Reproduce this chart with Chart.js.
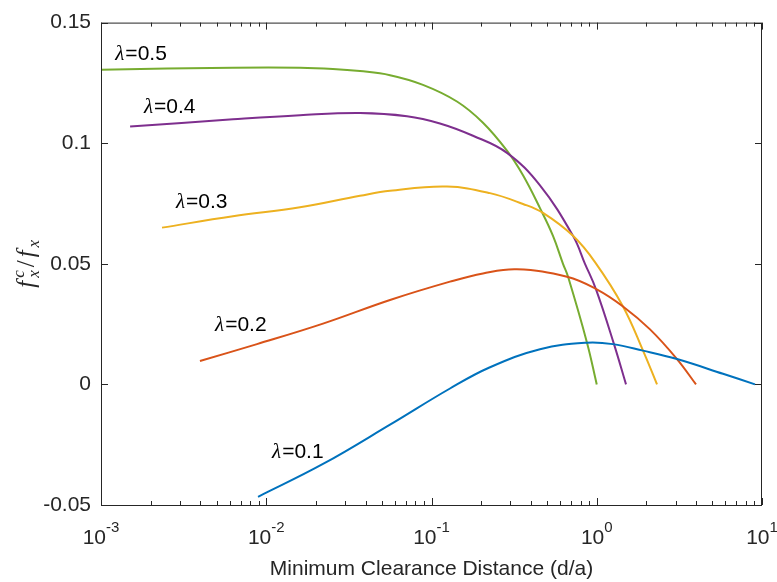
<!DOCTYPE html>
<html>
<head>
<meta charset="utf-8">
<script src="https://cdn.jsdelivr.net/npm/chart.js@4.4.0/dist/chart.umd.min.js"></script>
<style>
  html, body { margin: 0; padding: 0; background: #fff; }
  #wrap { width: 777px; height: 582px; }
</style>
</head>
<body>
<div id="wrap"><canvas id="chart"></canvas></div>
<script>
// lambda values, one curve each
const lambdas = ['0.1', '0.2', '0.3', '0.4', '0.5'];
const seriesColors = ['#0072BD', '#D95319', '#EDB120', '#7E2F8E', '#77AC30'];

// (x = d/a, y = f_x^c / f_x)
const x01 = [0.00892, 0.02205, 0.0561, 0.1294, 0.2259, 0.4534, 0.873, 1.2539, 1.9055, 3.0593, 5.8076, 9.0718];
const y01 = [-0.0466, -0.0330, -0.0167, -0.0017, 0.0071, 0.0146, 0.0173, 0.0167, 0.0140, 0.0105, 0.0044, 0.0];

const x02 = [0.00397, 0.00879, 0.02205, 0.0561, 0.1294, 0.2049, 0.3291, 0.6607, 1.0, 1.4416, 2.1008, 3.0593, 3.9867];
const y02 = [0.0097, 0.0167, 0.0252, 0.0350, 0.0426, 0.0460, 0.0477, 0.0446, 0.0394, 0.0323, 0.0228, 0.0105, 0.0];

const x03 = [0.00234, 0.00629, 0.016, 0.0369, 0.0561, 0.1241, 0.2259, 0.3579, 0.4729, 0.7182, 0.9759, 1.4416, 1.9055, 2.3159];
const y03 = [0.0650, 0.0697, 0.0734, 0.0782, 0.0803, 0.0820, 0.0793, 0.0748, 0.0711, 0.0616, 0.0507, 0.0323, 0.0140, 0.0];

const x04 = [0.0015, 0.00629, 0.016, 0.0369, 0.0711, 0.1125, 0.1783, 0.2862, 0.4534, 0.7182, 0.849, 0.9897, 1.2716, 1.5033];
const y04 = [0.1069, 0.1099, 0.1116, 0.1125, 0.1112, 0.1082, 0.1031, 0.0960, 0.0825, 0.0616, 0.0500, 0.0394, 0.0167, 0.0];

const x05 = [0.001, 0.00629, 0.016, 0.0253, 0.0369, 0.0561, 0.0888, 0.1426, 0.2049, 0.2862, 0.3579, 0.4534, 0.5435, 0.6249, 0.6699, 0.873, 1.0];
const y05 = [0.1305, 0.1313, 0.1313, 0.1308, 0.1299, 0.1282, 0.1242, 0.1173, 0.1085, 0.0969, 0.0867, 0.0731, 0.0616, 0.0500, 0.0447, 0.0173, 0.0];

const xSeries = [x01, x02, x03, x04, x05];
const ySeries = [y01, y02, y03, y04, y05];

// where the lambda labels sit (left edge, baseline) in data units
const labelX = [0.01084, 0.0049, 0.00284, 0.00182, 0.00122];
const labelY = [-0.0304, 0.0222, 0.0733, 0.1124, 0.1345];

const xExponents = [-3, -2, -1, 0, 1];
const yTicks = [-0.05, 0, 0.05, 0.1, 0.15];
const xTitle = 'Minimum Clearance Distance (d/a)';

const axisColor = '#262626';
const sans = "'Liberation Sans', Arial, Helvetica, sans-serif";
const serif = "'Liberation Serif', 'Times New Roman', 'DejaVu Serif', serif";

const datasets = lambdas.map((l, i) => ({
    label: '\u03bb=' + l,
    data: xSeries[i].map((v, j) => ({ x: v, y: ySeries[i][j] })),
    borderColor: seriesColors[i],
    borderWidth: 2,
    pointRadius: 0,
    fill: false,
    tension: 0.4
}));

// box, inward ticks, x tick labels, titles and curve labels
const decorations = {
    id: 'decorations',
    afterDraw(chart) {
        const { ctx, chartArea: a } = chart;
        const xs = chart.scales.x, ys = chart.scales.y;
        ctx.save();

        ctx.strokeStyle = axisColor;
        ctx.lineWidth = 1;
        ctx.strokeRect(a.left + 0.5, a.top + 0.5, a.right - a.left - 1, a.bottom - a.top);

        ctx.beginPath();
        for (let e = -3; e <= 1; e++) {
            for (let m = 1; m < 10; m++) {
                const v = m * Math.pow(10, e);
                if (v > 10) break;
                const px = Math.round(xs.getPixelForValue(v)) + 0.5;
                const len = m === 1 ? 7 : 4;
                ctx.moveTo(px, a.bottom); ctx.lineTo(px, a.bottom - len);
                ctx.moveTo(px, a.top); ctx.lineTo(px, a.top + len);
            }
        }
        yTicks.forEach(v => {
            const py = Math.round(ys.getPixelForValue(v)) + 0.5;
            ctx.moveTo(a.left, py); ctx.lineTo(a.left + 7, py);
            ctx.moveTo(a.right, py); ctx.lineTo(a.right - 7, py);
        });
        ctx.stroke();

        // x tick labels 10^n
        ctx.fillStyle = axisColor;
        ctx.textBaseline = 'alphabetic';
        ctx.textAlign = 'left';
        xExponents.forEach(e => {
            const px = xs.getPixelForValue(Math.pow(10, e));
            ctx.font = '21px ' + sans;
            const wb = ctx.measureText('10').width;
            ctx.font = '15px ' + sans;
            const exp = String(e);
            const we = ctx.measureText(exp).width;
            const left = px - (wb + we) / 2;
            ctx.font = '21px ' + sans;
            ctx.fillText('10', left, 544);
            ctx.font = '15px ' + sans;
            ctx.fillText(exp, left + wb, 532);
        });

        // x title
        ctx.font = '21px ' + sans;
        ctx.textAlign = 'center';
        ctx.fillText(xTitle, (a.left + a.right) / 2, 575);

        // y title f_x^c / f_x, rotated
        ctx.save();
        ctx.translate(34, (a.top + a.bottom) / 2);
        ctx.rotate(-Math.PI / 2);
        ctx.textAlign = 'left';
        const big = 'italic 25px ' + serif, small = 'italic 17px ' + serif;
        ctx.font = big; const wf = ctx.measureText('f').width;
        ctx.font = small; const wc = ctx.measureText('c').width, wx = ctx.measureText('x').width;
        ctx.font = '25px ' + serif; const ws = ctx.measureText('/').width;
        const total = wf + 3 + Math.max(wc, wx) + 3 + ws + 3 + wf + 3 + wx;
        let cx = -total / 2;
        ctx.font = big; ctx.fillText('f', cx, 0); cx += wf + 3;
        ctx.font = small; ctx.fillText('c', cx, -10); ctx.fillText('x', cx, 5); cx += Math.max(wc, wx) + 3;
        ctx.font = '25px ' + serif; ctx.fillText('/', cx, 0); cx += ws + 3;
        ctx.font = big; ctx.fillText('f', cx, 0); cx += wf + 3;
        ctx.font = small; ctx.fillText('x', cx, 5);
        ctx.restore();

        // curve labels
        ctx.fillStyle = '#000';
        ctx.textAlign = 'left';
        lambdas.forEach((l, i) => {
            const px = xs.getPixelForValue(labelX[i]);
            const py = ys.getPixelForValue(labelY[i]);
            ctx.font = 'italic 21px ' + serif;
            ctx.fillText('\u03bb', px, py);
            const wl = ctx.measureText('\u03bb').width;
            ctx.font = '21px ' + sans;
            ctx.fillText('=' + l, px + wl + 1, py);
        });

        ctx.restore();
    }
};

new Chart(document.getElementById('chart'), {
    type: 'line',
    data: { datasets },
    options: {
        responsive: true,
        maintainAspectRatio: false,
        animation: false,
        events: [],
        layout: { padding: { top: 15, right: 15, bottom: 77, left: 0 } },
        plugins: { legend: { display: false }, tooltip: { enabled: false } },
        scales: {
            x: {
                type: 'logarithmic',
                min: 0.001,
                max: 10,
                display: false
            },
            y: {
                type: 'linear',
                min: -0.05,
                max: 0.15,
                afterFit: s => { s.width = 101; },
                afterBuildTicks: s => { s.ticks = yTicks.map(v => ({ value: v })); },
                grid: { display: false, drawTicks: false },
                border: { display: false },
                ticks: {
                    color: axisColor,
                    padding: 10,
                    font: { family: sans, size: 21 },
                    callback: v => String(Number(v.toFixed(2)))
                }
            }
        }
    },
    plugins: [decorations]
});
</script>
</body>
</html>
